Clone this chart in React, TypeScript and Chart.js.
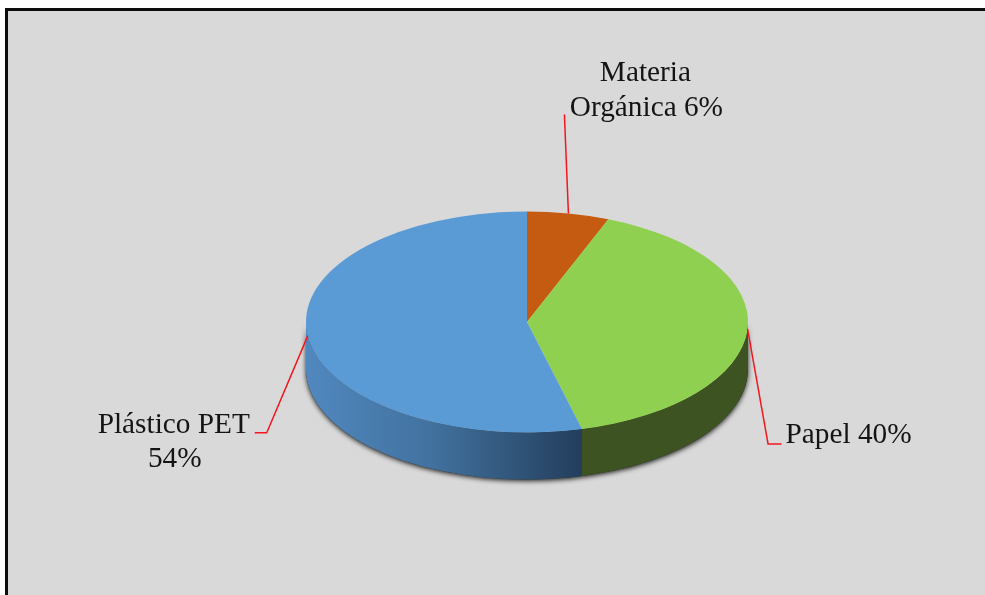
import React, { useEffect, useRef } from "react";
import { Chart, registerables } from "chart.js";

Chart.register(...registerables);

// Waste composition, in percent, clockwise from twelve o'clock.
const categories = ["Materia Orgánica", "Papel", "Plástico PET"];
const shares = [6, 40, 54];
const topColors = ["#c55a11", "#90d050", "#5b9bd5"];

const TILT = 0.5; // vertical squash of the disc
const DEPTH = 47; // height of the side wall
const FONT = '29.3px "Liberation Serif", serif';

// Leader-line bends and label lines, relative to each slice's rim midpoint.
const leaderBends = [
  [[-4, -99]],
  [[20.5, 115], [34, 115]],
  [[-41, 97], [-53, 97]],
];
const labelLines = [
  [`Materia`, `${categories[0].split(" ")[1]} ${shares[0]}%`],
  [`${categories[1]} ${shares[1]}%`],
  [categories[2], `${shares[2]}%`],
];
const labelOffsets = [
  [[77, -132], [78, -97.5]],
  [[101, 114.5]],
  [[-134, 97], [-133, 131]],
];

const TWO_PI = Math.PI * 2;

// Part of a slice's angular span that faces the viewer (canvas angles 0..PI).
function frontSpan(start: number, end: number): [number, number] | null {
  let a = start;
  let b = end;
  if (b <= 0) {
    a += TWO_PI;
    b += TWO_PI;
  }
  const lo = Math.max(a, 0);
  const hi = Math.min(b, Math.PI);
  return hi > lo ? [lo, hi] : null;
}

function wallFill(ctx: CanvasRenderingContext2D, index: number, x: number, r: number, hi: number) {
  if (index === 2) {
    const right = x + r * Math.cos(Math.min(hi, 1.32));
    const g = ctx.createLinearGradient(x - r, 0, right, 0);
    g.addColorStop(0, "#5088bf");
    g.addColorStop(0.45, "#42729f");
    g.addColorStop(1, "#233e5c");
    return g;
  }
  return index === 1 ? "#3d5322" : "#6b3209";
}

const pie3d = {
  id: "pie3d",
  beforeDatasetsDraw(chart: any) {
    const ctx: CanvasRenderingContext2D = chart.ctx;
    const arcs = chart.getDatasetMeta(0).data;
    const { x, y, outerRadius: r } = arcs[0].getProps(["x", "y", "outerRadius"]);
    const ry = r * TILT;

    // Soft dark edge under the disc.
    ctx.save();
    ctx.shadowColor = "rgba(30,30,30,1)";
    ctx.shadowBlur = 5;
    ctx.shadowOffsetY = 1.5;
    ctx.fillStyle = "#333";
    ctx.beginPath();
    ctx.ellipse(x, y, r, ry, 0, 0, Math.PI);
    ctx.ellipse(x, y + DEPTH, r, ry, 0, Math.PI, 0, true);
    ctx.closePath();
    ctx.fill();
    ctx.restore();

    // Side wall of every slice that faces the viewer.
    arcs.forEach((arc: any, i: number) => {
      const { startAngle, endAngle } = arc.getProps(["startAngle", "endAngle"]);
      const span = frontSpan(startAngle, endAngle);
      if (!span) return;
      ctx.fillStyle = wallFill(ctx, i, x, r, span[0]);
      ctx.beginPath();
      ctx.ellipse(x, y, r, ry, 0, span[0], span[1]);
      ctx.ellipse(x, y + DEPTH, r, ry, 0, span[1], span[0], true);
      ctx.closePath();
      ctx.fill();
    });

    // The slices themselves are drawn by the library inside this transform.
    ctx.save();
    ctx.translate(0, y);
    ctx.scale(1, TILT);
    ctx.translate(0, -y);
  },
  afterDatasetsDraw(chart: any) {
    const ctx: CanvasRenderingContext2D = chart.ctx;
    ctx.restore();

    chart.getDatasetMeta(0).data.forEach((arc: any, i: number) => {
      const { x, y, outerRadius: r, startAngle, endAngle } = arc.getProps([
        "x", "y", "outerRadius", "startAngle", "endAngle",
      ]);
      const mid = (startAngle + endAngle) / 2;
      const ax = x + r * Math.cos(mid);
      const ay = y + r * TILT * Math.sin(mid);

      ctx.strokeStyle = "#f5161e";
      ctx.lineWidth = 1.5;
      ctx.beginPath();
      ctx.moveTo(ax, ay);
      leaderBends[i].forEach(([dx, dy]) => ctx.lineTo(ax + dx, ay + dy));
      ctx.stroke();

      ctx.fillStyle = "#141414";
      ctx.font = FONT;
      ctx.textAlign = "center";
      ctx.textBaseline = "alphabetic";
      labelLines[i].forEach((line, k) => {
        const [dx, dy] = labelOffsets[i][k];
        ctx.fillText(line, ax + dx, ay + dy);
      });
    });
  },
};

export default function App() {
  const ref = useRef<HTMLCanvasElement>(null);

  useEffect(() => {
    if (!ref.current) return;
    const chart = new Chart(ref.current, {
      type: "pie",
      data: {
        labels: categories,
        datasets: [
          { data: shares, backgroundColor: topColors, borderWidth: 0, hoverOffset: 0 },
        ],
      },
      options: {
        responsive: false,
        animation: false,
        layout: { padding: { left: 306, right: 237, top: 101, bottom: 52 } },
        plugins: { legend: { display: false }, tooltip: { enabled: false } },
      },
      plugins: [pie3d],
    });
    return () => chart.destroy();
  }, []);

  return (
    <div style={{ position: "absolute", left: 0, top: 0, width: 985, height: 595, background: "#fff", overflow: "hidden" }}>
      <div
        style={{
          position: "absolute",
          left: 5,
          top: 8,
          width: 980,
          height: 587,
          boxSizing: "border-box",
          background: "#d9d9d9",
          borderLeft: "3px solid #0d0d0d",
          borderTop: "3px solid #0d0d0d",
        }}
      />
      <canvas ref={ref} width={985} height={595} style={{ position: "absolute", left: 0, top: 0, display: "block" }} />
    </div>
  );
}
